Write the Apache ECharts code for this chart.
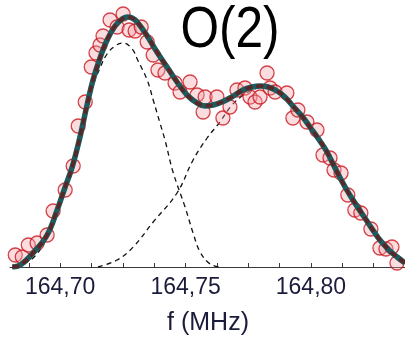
<!DOCTYPE html>
<html>
<head>
<meta charset="utf-8">
<title>O(2)</title>
<script src="https://cdn.jsdelivr.net/npm/echarts@6/dist/echarts.min.js"></script>
<style>
  html, body { margin: 0; padding: 0; background: #ffffff; }
  #chart { width: 405px; height: 338px; }
</style>
</head>
<body>
<div id="chart"></div>
<script>
// Measured spectrum: frequency (MHz) and intensity (arb. units)
const measFreq = [
  164.6821, 164.6849, 164.6873, 164.6908, 164.6948, 164.6972, 164.7020, 164.7052,
  164.7072, 164.7100, 164.7124, 164.7143, 164.7159, 164.7171, 164.7199, 164.7227,
  164.7251, 164.7275, 164.7299, 164.7323, 164.7347, 164.7371, 164.7390, 164.7418,
  164.7458, 164.7478, 164.7518, 164.7546, 164.7570, 164.7578, 164.7625, 164.7649,
  164.7677, 164.7705, 164.7737, 164.7757, 164.7777, 164.7797, 164.7825, 164.7837,
  164.7857, 164.7904, 164.7928, 164.7948, 164.7984, 164.8024, 164.8048, 164.8076,
  164.8092, 164.8120, 164.8147, 164.8175, 164.8199, 164.8239, 164.8275, 164.8299,
  164.8323, 164.8343
];
const measIntensity = [
  4.8, 4.0, 8.8, 9.6, 12.8, 22.4, 30.8, 40.4,
  56.4, 66.0, 80.0, 85.6, 88.8, 92.4, 98.8, 96.0,
  101.2, 94.8, 94.4, 96.0, 90.0, 84.8, 78.8, 77.6,
  73.6, 70.0, 74.0, 68.8, 62.0, 68.0, 68.0, 59.6,
  64.0, 70.8, 71.6, 68.0, 66.0, 68.0, 77.6, 71.6,
  70.0, 69.6, 59.6, 62.8, 58.0, 54.8, 44.8, 43.6,
  38.8, 37.6, 28.8, 22.8, 21.6, 15.2, 7.6, 7.2,
  8.0, 1.6
];

// Total fitted line shape
const fitFreq = [
  164.6809, 164.6841, 164.6892, 164.6948, 164.6988, 164.7020, 164.7048, 164.7080,
  164.7108, 164.7131, 164.7159, 164.7187, 164.7219, 164.7247, 164.7267, 164.7287,
  164.7307, 164.7347, 164.7386, 164.7426, 164.7466, 164.7506, 164.7546, 164.7578,
  164.7610, 164.7645, 164.7677, 164.7729, 164.7765, 164.7797, 164.7829, 164.7865,
  164.7896, 164.7928, 164.7964, 164.7996, 164.8036, 164.8064, 164.8096, 164.8143,
  164.8183, 164.8223, 164.8255, 164.8275, 164.8315, 164.8343, 164.8375
];
const fitIntensity = [
  0.0, 0.8, 5.6, 12.8, 22.8, 32.0, 40.0, 52.4,
  65.2, 74.8, 83.6, 90.8, 96.4, 99.2, 100.0, 99.6,
  98.0, 92.4, 86.0, 80.0, 74.0, 68.8, 65.6, 64.4,
  64.8, 66.0, 67.6, 70.8, 72.0, 72.4, 72.0, 70.4,
  68.0, 64.4, 60.4, 56.0, 50.4, 46.0, 39.6, 30.8,
  24.4, 18.4, 13.6, 10.8, 6.4, 4.0, 1.6
];

// Low-frequency component
const peak1Freq = [
  164.6821, 164.6861, 164.6900, 164.6948, 164.6988, 164.7020, 164.7048, 164.7080,
  164.7108, 164.7131, 164.7159, 164.7187, 164.7219, 164.7251, 164.7287, 164.7311,
  164.7347, 164.7371, 164.7398, 164.7418, 164.7450, 164.7498, 164.7530, 164.7558,
  164.7598, 164.7637
];
const peak1Intensity = [
  0.4, 1.6, 4.4, 11.6, 21.6, 30.4, 38.0, 50.0,
  62.8, 72.4, 79.6, 85.2, 88.4, 89.6, 87.2, 82.4,
  74.8, 66.8, 57.6, 50.8, 38.0, 24.0, 13.6, 6.0,
  1.2, 0.0
];

// High-frequency component
const peak2Freq = [
  164.7151, 164.7227, 164.7291, 164.7371, 164.7466, 164.7530, 164.7586, 164.7637,
  164.7685, 164.7737, 164.7777, 164.7817, 164.7865, 164.7928, 164.7996, 164.8064,
  164.8143, 164.8223, 164.8275, 164.8343, 164.8375
];
const peak2Intensity = [
  0.0, 2.8, 8.0, 18.0, 29.6, 42.8, 51.6, 58.0,
  64.8, 69.2, 71.2, 72.0, 70.4, 64.4, 56.0, 46.0,
  30.8, 18.4, 10.8, 4.0, 1.6
];

// Axis marks
const labelTicks = [164.70, 164.75, 164.80];
const minorTicks = [
  164.6875, 164.70, 164.7125, 164.725, 164.7375, 164.75, 164.7625,
  164.775, 164.7875, 164.80, 164.8125, 164.825, 164.8375
];
const titleText = 'O(2)';
const axisTitle = 'f (MHz)';

const pairs = (xs, ys) => xs.map((x, i) => [x, ys[i]]);

const chart = echarts.init(document.getElementById('chart'), null, { renderer: 'canvas' });

const componentStyle = { color: '#111111', width: 1.3, type: [5, 4] };

chart.setOption({
  animation: false,
  backgroundColor: '#ffffff',
  grid: { left: 10, right: 0, top: 7, bottom: 71, containLabel: false },
  xAxis: {
    type: 'value',
    min: 164.68,
    max: 164.8375,
    axisLine: { show: true, lineStyle: { color: '#3a3a3a', width: 1 } },
    axisTick: {
      show: true, inside: true, length: 4,
      customValues: minorTicks,
      lineStyle: { color: '#3a3a3a', width: 1 }
    },
    axisLabel: {
      customValues: labelTicks,
      margin: 9,
      color: '#1b1b3a',
      fontFamily: 'Liberation Sans',
      fontSize: 23,
      formatter: v => v.toFixed(2).replace('.', ',')
    },
    splitLine: { show: false }
  },
  yAxis: {
    type: 'value',
    min: 0,
    max: 104,
    show: false,
    splitLine: { show: false }
  },
  graphic: [
    {
      type: 'text',
      x: 230, y: 31,
      scaleX: 0.87,
      style: {
        text: titleText,
        fill: '#000000',
        font: '57px "Liberation Sans"',
        textAlign: 'center',
        textVerticalAlign: 'middle'
      }
    },
    {
      type: 'text',
      x: 208, y: 323,
      style: {
        text: axisTitle,
        fill: '#1b1b3a',
        font: '25px "Liberation Sans"',
        textAlign: 'center',
        textVerticalAlign: 'middle'
      }
    }
  ],
  series: [
    {
      name: 'peak 1', type: 'line', data: pairs(peak1Freq, peak1Intensity),
      showSymbol: false, smooth: 0.4, lineStyle: componentStyle, z: 1
    },
    {
      name: 'peak 2', type: 'line', data: pairs(peak2Freq, peak2Intensity),
      showSymbol: false, smooth: 0.4, lineStyle: componentStyle, z: 1
    },
    {
      name: 'data', type: 'scatter', data: pairs(measFreq, measIntensity),
      symbol: 'circle', symbolSize: 14, clip: false, z: 2,
      itemStyle: { color: 'rgba(245,160,170,0.45)', borderColor: '#c8161e', borderWidth: 1.3 }
    },
    {
      name: 'fit', type: 'line', data: pairs(fitFreq, fitIntensity),
      showSymbol: false, smooth: 0.4, z: 3,
      lineStyle: { color: '#1e5b5e', width: 5.5 }
    },
    {
      name: 'fit overlay', type: 'line', data: pairs(fitFreq, fitIntensity),
      showSymbol: false, smooth: 0.4, z: 4,
      lineStyle: { color: '#5a2626', width: 3.5, type: [7, 4] }
    }
  ]
});
</script>
</body>
</html>
